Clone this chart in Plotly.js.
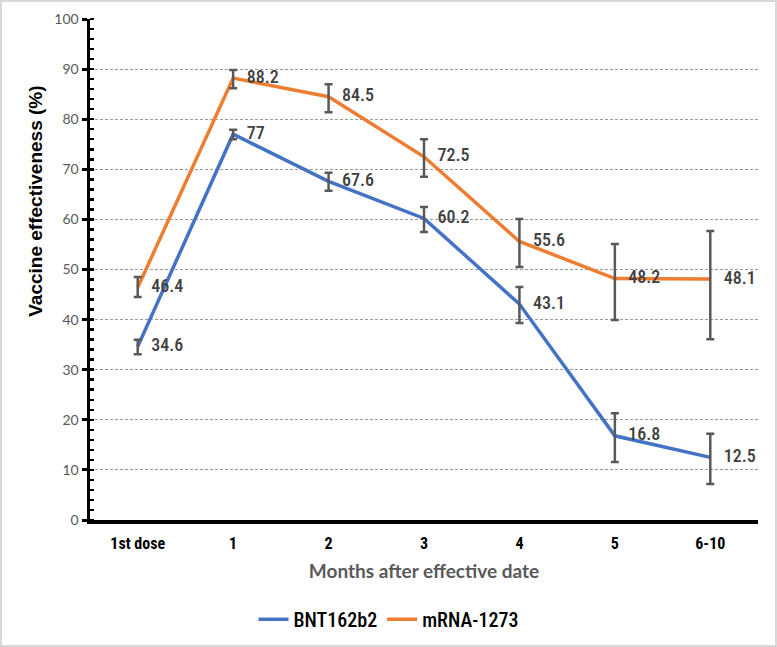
<!DOCTYPE html>
<html>
<head>
<meta charset="utf-8">
<script src="https://cdn.plot.ly/plotly-3.0.1.min.js"></script>
<style>
  html, body { margin: 0; padding: 0; background: #fff; }
  #wrap { position: relative; width: 777px; height: 647px; }
  #chart { width: 777px; height: 647px; }
  #frame { position: absolute; left: 0; top: 0; width: 777px; height: 647px; box-sizing: border-box; border: 2px solid #d9d9d9; pointer-events: none; }
</style>
</head>
<body>
<div id="wrap"><div id="chart"></div><div id="frame"></div></div>
<script>
// ---- data ----
var categories = ["1st dose", "1", "2", "3", "4", "5", "6-10"];
var bntValues = [34.6, 77, 67.6, 60.2, 43.1, 16.8, 12.5];
var bntLower  = [33.1, 76.0, 65.7, 57.5, 39.3, 11.6, 7.2];
var bntUpper  = [36.0, 77.9, 69.3, 62.5, 46.5, 21.3, 17.2];
var mrnaValues = [46.4, 88.2, 84.5, 72.5, 55.6, 48.2, 48.1];
var mrnaLower  = [44.5, 86.2, 81.4, 68.5, 50.5, 39.9, 36.1];
var mrnaUpper  = [48.5, 89.8, 87.0, 76.0, 60.1, 55.1, 57.7];
var seriesNames = ["BNT162b2", "mRNA-1273"];
var yTickVals = [0, 10, 20, 30, 40, 50, 60, 70, 80, 90, 100];

var NARROW = "'Liberation Sans Narrow', 'Arial Narrow', 'Roboto Condensed', Roboto, 'Liberation Sans', Arial, sans-serif";
var BLUE = "#4472C4", ORANGE = "#ED7D31", ERR = "#595959";

function diff(a, b) { return a.map(function (v, i) { return v - b[i]; }); }

function lineTrace(name, vals, color) {
  return {
    type: "scatter", mode: "lines+markers+text", name: name,
    x: categories, y: vals,
    text: vals.map(String), textposition: "middle right",
    textfont: { family: NARROW, size: 18, color: "#404040", weight: 500 },
    line: { color: color, width: 3.5 },
    marker: { size: 20, color: "rgba(0,0,0,0)", line: { width: 0 } },
    cliponaxis: false, hoverinfo: "skip"
  };
}
function errTrace(vals, lo, hi) {
  return {
    type: "scatter", mode: "markers", showlegend: false,
    x: categories, y: vals,
    marker: { size: 1, color: "rgba(0,0,0,0)" },
    error_y: { type: "data", symmetric: false, array: diff(hi, vals), arrayminus: diff(vals, lo),
               color: ERR, thickness: 2.5, width: 4 },
    hoverinfo: "skip"
  };
}

var data = [
  lineTrace(seriesNames[0], bntValues, BLUE),
  lineTrace(seriesNames[1], mrnaValues, ORANGE),
  errTrace(bntValues, bntLower, bntUpper),
  errTrace(mrnaValues, mrnaLower, mrnaUpper)
];

var layout = {
  width: 777, height: 647,
  margin: { l: 90, r: 19, t: 19, b: 127 },
  paper_bgcolor: "#fff", plot_bgcolor: "#fff",
  showlegend: true,
  legend: {
    orientation: "h", xref: "container", yref: "container",
    x: 0.5, xanchor: "center", y: 0.043, yanchor: "middle",
    font: { family: NARROW, size: 20, color: "#000", weight: 500 },
    itemwidth: 30, tracegroupgap: 0
  },
  xaxis: {
    type: "category", range: [-0.5, 6.5],
    showline: true, linecolor: "#000", linewidth: 3.5,
    ticks: "", showgrid: false, zeroline: false,
    ticklabelstandoff: 6,
    tickfont: { family: NARROW, size: 16, color: "#000", weight: "bold" },
    title: { text: "Months after effective date", standoff: 14,
             font: { family: "Lato, 'Liberation Sans', sans-serif", size: 19, color: "#595959", weight: "bold" } }
  },
  yaxis: {
    range: [0, 100], tickvals: yTickVals, ticktext: yTickVals.map(String),
    showline: true, linecolor: "#000", linewidth: 3.5,
    ticks: "outside", ticklen: 5, tickwidth: 3, tickcolor: "#000",
    minor: { dtick: 2, ticks: "inside", ticklen: 4, tickwidth: 2.5, tickcolor: "#000", showgrid: false },
    showgrid: true, gridcolor: "#9a9a9a", gridwidth: 1, griddash: "3px,2px",
    zeroline: false,
    tickfont: { family: "Lato, 'Liberation Sans', sans-serif", size: 14, color: "#595959" }
  },
  annotations: [{
    text: "Vaccine effectiveness (%)", textangle: -90,
    xref: "paper", yref: "paper", x: -0.081, y: 0.637,
    xanchor: "center", yanchor: "middle", showarrow: false,
    font: { family: "'Liberation Sans', Arial, sans-serif", size: 19, color: "#000", weight: "bold" }
  }]
};

Plotly.newPlot("chart", data, layout, { displayModeBar: false, staticPlot: true });
</script>
</body>
</html>
